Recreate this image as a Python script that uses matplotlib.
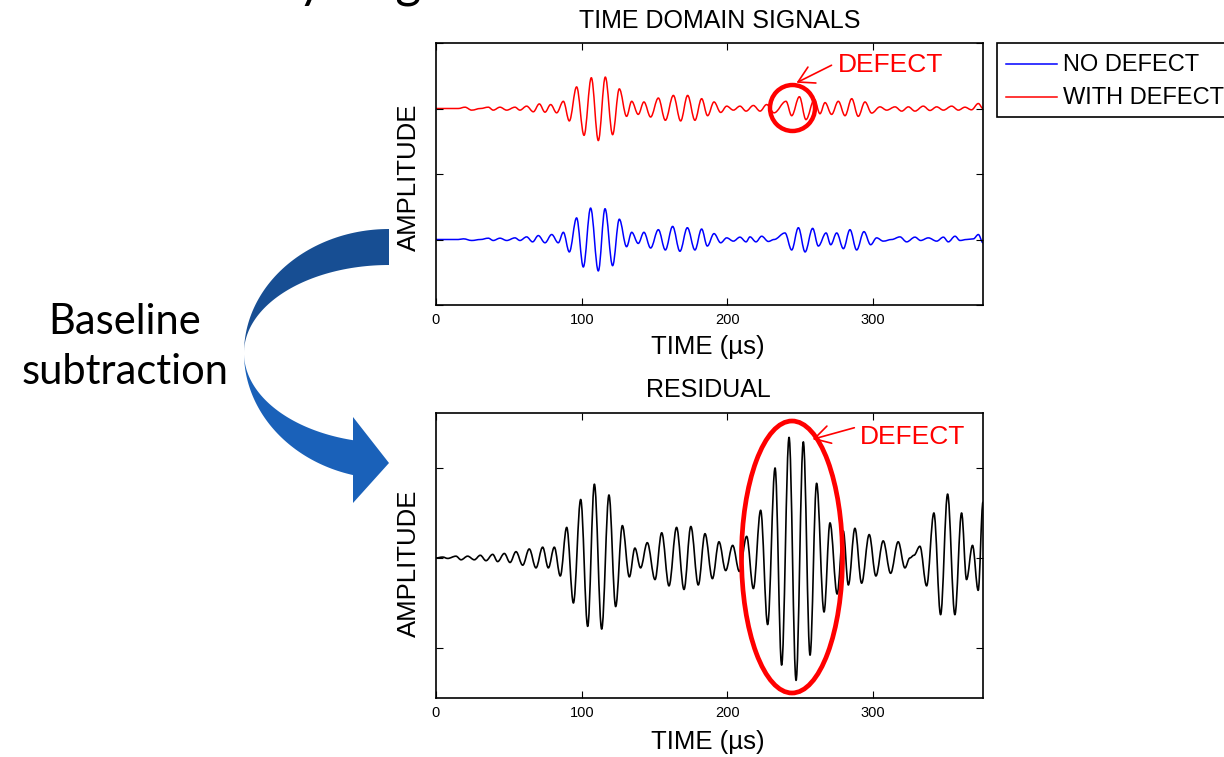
import matplotlib
matplotlib.use("Agg")
import numpy as np
import matplotlib.pyplot as plt
from matplotlib.patches import Ellipse, Polygon, Rectangle, FancyArrowPatch, PathPatch
from matplotlib.lines import Line2D
from matplotlib.path import Path

# ---------------------------------------------------------------- data
# Time-domain signal WITH a defect: extrema (time in us, amplitude)
red_t = [0.0, 15.3, 19.9, 24.5, 30.5, 35.9, 39.3, 43.9, 48.5, 54.2,
         57.6, 62.2, 66.8, 70.9, 74.8, 78.7, 82.8, 87.4, 91.5, 96.5,
         101.6, 106.6, 111.4, 116.2, 121.2, 125.8, 130.8, 134.3, 138.8, 142.7,
         147.3, 152.6, 157.4, 162.9, 167.9, 172.7, 177.7, 182.3, 186.4, 190.8,
         195.4, 199.5, 204.1, 208.6, 212.8, 217.8, 222.4, 226.9, 232.0, 240.2,
         244.1, 249.4, 253.9, 259.7, 263.5, 267.0, 271.5, 276.1, 280.7, 285.3,
         289.8, 294.4, 299.0, 304.7, 309.3, 315.0, 319.6, 324.2, 328.7, 334.4,
         339.0, 343.6, 348.2, 353.9, 358.5, 363.0, 367.5, 372.2, 375.4]
red_a = [0.0, 0.0, 0.02, -0.025, 0.0, 0.02, -0.025, 0.02, -0.025, 0.02,
         -0.025, 0.036, -0.05, 0.07, -0.056, 0.06, -0.066, 0.11, -0.19, 0.33,
         -0.41, 0.47, -0.49, 0.48, -0.40, 0.30, -0.12, 0.11, -0.09, 0.10,
         -0.13, 0.16, -0.18, 0.20, -0.19, 0.20, -0.18, 0.15, -0.11, 0.10,
         -0.06, 0.036, -0.025, 0.036, -0.04, 0.046, -0.04, 0.06, -0.066, 0.11,
         -0.11, 0.18, -0.17, 0.14, -0.08, 0.09, -0.09, 0.11, -0.11, 0.15,
         -0.12, 0.10, -0.07, 0.025, -0.025, 0.025, -0.04, 0.025, -0.04, 0.036,
         -0.03, 0.025, -0.025, 0.036, -0.025, 0.02, -0.02, 0.076, 0.0]

# Time-domain baseline signal (NO defect)
blue_t = [0.0, 15.3, 18.8, 24.5, 30.5, 35.9, 39.3, 43.9, 48.5, 54.2,
          57.6, 62.2, 66.3, 70.2, 74.8, 79.4, 83.9, 87.4, 91.5, 96.5,
          101.1, 106.1, 111.4, 116.0, 121.2, 125.8, 130.8, 134.3, 138.8, 142.7,
          147.3, 152.6, 157.4, 162.4, 167.4, 172.5, 177.7, 182.3, 186.2, 190.8,
          195.4, 199.5, 204.1, 208.6, 212.8, 215.5, 219.6, 223.5, 228.1, 232.0,
          239.5, 244.1, 248.7, 253.3, 258.5, 262.4, 267.7, 270.9, 275.0, 279.6,
          284.1, 288.7, 293.7, 298.3, 302.4, 307.0, 312.7, 318.4, 323.0, 328.7,
          332.6, 337.9, 343.6, 348.2, 351.6, 356.2, 359.6, 364.2, 368.8, 372.2,
          375.4]
blue_a = [0.0, 0.0, 0.01, -0.015, 0.0, 0.02, -0.015, 0.02, -0.015, 0.025,
          -0.015, 0.04, -0.036, 0.06, -0.05, 0.076, -0.05, 0.11, -0.19, 0.33,
          -0.42, 0.48, -0.48, 0.47, -0.40, 0.31, -0.11, 0.11, -0.06, 0.11,
          -0.13, 0.15, -0.16, 0.20, -0.18, 0.18, -0.16, 0.16, -0.10, 0.09,
          -0.05, 0.025, -0.025, 0.036, -0.036, 0.04, -0.036, 0.05, -0.03, 0.0,
          0.10, -0.16, 0.18, -0.19, 0.17, -0.10, 0.10, -0.08, 0.10, -0.14,
          0.15, -0.16, 0.12, -0.08, 0.025, -0.025, 0.0, 0.04, -0.036, 0.036,
          -0.015, 0.025, -0.025, 0.036, -0.036, 0.05, -0.015, 0.0, 0.01, 0.076,
          -0.05]

# Residual after baseline subtraction
res_t = [0.0, 4.6, 8.0, 13.7, 17.2, 21.7, 26.3, 30.4, 34.3, 38.9,
         42.3, 46.9, 50.8, 54.9, 59.5, 64.0, 68.6, 73.2, 77.1, 81.2,
         85.3, 89.7, 94.3, 99.3, 104.1, 108.7, 113.7, 118.7, 123.3, 127.9,
         132.7, 136.5, 140.4, 145.0, 150.3, 154.9, 159.9, 165.1, 170.2, 174.9,
         180.0, 184.6, 189.7, 194.2, 198.8, 203.6, 208.2, 213.2, 217.8, 222.8,
         227.6, 232.7, 237.2, 242.3, 247.1, 252.1, 256.7, 261.2, 266.3, 270.4,
         275.3, 279.5, 283.0, 287.5, 292.1, 297.3, 301.9, 306.9, 312.0, 317.2,
         321.8, 325.2, 328.0, 332.1, 336.7, 341.7, 346.3, 351.1, 356.1, 360.7,
         364.1, 368.2, 372.1, 375.4]
res_a = [0.0, 0.01, -0.005, 0.02, -0.02, 0.02, -0.02, 0.03, -0.03, 0.04,
         -0.04, 0.05, -0.05, 0.07, -0.08, 0.10, -0.11, 0.12, -0.11, 0.12,
         -0.20, 0.34, -0.50, 0.65, -0.76, 0.82, -0.79, 0.70, -0.54, 0.36,
         -0.21, 0.11, -0.11, 0.17, -0.24, 0.28, -0.31, 0.34, -0.35, 0.35,
         -0.30, 0.27, -0.23, 0.18, -0.14, 0.14, -0.15, 0.24, -0.34, 0.53,
         -0.74, 1.00, -1.19, 1.34, -1.36, 1.29, -1.08, 0.83, -0.60, 0.39,
         -0.40, 0.30, -0.30, 0.33, -0.28, 0.26, -0.20, 0.19, -0.17, 0.18,
         -0.11, 0.0, 0.03, 0.13, -0.31, 0.50, -0.63, 0.71, -0.63, 0.50,
         -0.24, 0.14, -0.36, 0.62]

x_ticks = [0, 100, 200, 300]
series_names = ["NO DEFECT", "WITH DEFECT"]

# ---------------------------------------------------------------- layout
plt.rcParams["font.family"] = ["Liberation Sans", "DejaVu Sans"]
W, H = 1224, 757
fig = plt.figure(figsize=(W / 100, H / 100), dpi=100)


def box(left, top, right, bottom):
    return [left / W, 1 - bottom / H, (right - left) / W, (bottom - top) / H]


def style_axes(ax, ylim, yticks):
    ax.set_xlim(0, 375.4)
    ax.set_ylim(*ylim)
    ax.set_xticks(x_ticks)
    ax.set_yticks(yticks)
    ax.set_yticklabels([])
    ax.tick_params(direction="in", top=True, right=True, length=5,
                   width=0.8, labelsize=10.5, pad=6)
    for s in ax.spines.values():
        s.set_linewidth(1.2)


def wave(ax, t, a, offset, color, lw):
    """Draw a trace through its extrema, each joined by a smooth cubic
    segment with level tangents at the turning points."""
    t = np.asarray(t, float)
    a = np.asarray(a, float) + offset
    verts = [(t[0], a[0])]
    codes = [Path.MOVETO]
    for i in range(1, len(t)):
        d = t[i] - t[i - 1]
        verts += [(t[i - 1] + 0.36 * d, a[i - 1]),
                  (t[i] - 0.36 * d, a[i]),
                  (t[i], a[i])]
        codes += [Path.CURVE4] * 3
    ax.add_patch(PathPatch(Path(verts, codes), fill=False, ec=color, lw=lw,
                           capstyle="round", joinstyle="round"))


ax1 = fig.add_axes(box(436, 43, 983, 305))
wave(ax1, blue_t, blue_a, -1.0, "#0000ff", 1.1)
wave(ax1, red_t, red_a, 1.0, "#ff0000", 1.1)
style_axes(ax1, (-2, 2), [-2, -1, 0, 1, 2])

ax2 = fig.add_axes(box(436, 413, 983, 698))
wave(ax2, res_t, res_a, 0.0, "black", 1.2)
style_axes(ax2, (-1.556, 1.611), [-1, 0, 1])

lab = dict(fontsize=18.5, ha="center", va="center")
fig.text(720 / W, 1 - 21 / H, "TIME DOMAIN SIGNALS", fontsize=18,
         ha="center", va="center")
fig.text(708 / W, 1 - 390 / H, "RESIDUAL", fontsize=18,
         ha="center", va="center")
fig.text(708 / W, 1 - 347 / H, "TIME (\u00b5s)", **lab)
fig.text(708 / W, 1 - 742 / H, "TIME (\u00b5s)", **lab)
fig.text(409 / W, 1 - 177 / H, "AMPLITUDE", rotation=90, **lab)
fig.text(409 / W, 1 - 563 / H, "AMPLITUDE", rotation=90, **lab)

# ---------------------------------------------------------------- overlay (pixel coordinates)
ov = fig.add_axes([0, 0, 1, 1], zorder=5)
ov.set_xlim(0, W)
ov.set_ylim(H, 0)
ov.axis("off")
ov.patch.set_alpha(0)

# curved "baseline subtraction" arrow
cx, cy, rx = 389, 353, 145
th_up = np.radians(np.linspace(90, 180, 60))
upper = np.concatenate([
    np.column_stack([cx + rx * np.cos(th_up), cy - 124 * np.sin(th_up)]),
    np.column_stack([cx + rx * np.cos(th_up[::-1]), cy - 88 * np.sin(th_up[::-1])]),
])
ov.add_patch(Polygon(upper, closed=True, fc="#174e93", ec="none"))
th_end = np.degrees(np.arccos((353 - cx) / rx))
th_lo = np.radians(np.linspace(180, th_end, 60))
outer_lo = np.column_stack([cx + rx * np.cos(th_lo), cy + 126 * np.sin(th_lo)])
inner_lo = np.column_stack([cx + rx * np.cos(th_lo), cy + 90 * np.sin(th_lo)])
lower = np.concatenate([
    outer_lo,
    [[353, 503], [389, 463], [353, 417]],
    inner_lo[::-1],
])
ov.add_patch(Polygon(lower, closed=True, fc="#1a61b9", ec="none"))

fig.text(125 / W, 1 - 347 / H, "Baseline\nsubtraction", fontsize=30,
         family="Lato", ha="center", va="center", linespacing=1.4)

# defect markers
ov.add_patch(Ellipse((792.5, 108), 45, 46, fill=False, ec="#ff0000", lw=3.2))
ov.add_patch(Ellipse((792, 557), 101, 272, fill=False, ec="#ff0000", lw=3.4))
for (x0, y0), (x1, y1) in [((834, 64), (794, 84)), ((857, 427), (810, 440))]:
    ov.add_patch(FancyArrowPatch((x0, y0), (x1, y1),
                                 arrowstyle="->,head_length=7,head_width=4",
                                 color="#ff0000", lw=1.2, mutation_scale=1.6))
ov.text(838, 65, "DEFECT", color="#ff0000", fontsize=19, va="center", ha="left")
ov.text(860, 437, "DEFECT", color="#ff0000", fontsize=19, va="center", ha="left")

# legend box (runs past the right edge)
ov.add_patch(Rectangle((997, 43), 260, 74, fc="white", ec="black", lw=1.2,
                       clip_on=False))
for yy, col, name in [(64, "#0000ff", series_names[0]),
                      (97, "#ff0000", series_names[1])]:
    ov.add_line(Line2D([1006, 1057], [yy, yy], color=col, lw=1.1))
    ov.text(1063, yy + 1, name, fontsize=17, va="center", ha="left")

# slide heading running off the top edge
head = fig.text(0, 0, "Sensitivity", fontsize=36, family="Lato")
fig.canvas.draw()
wpx = head.get_window_extent().width
head.set_text("Sensitivity of guided waves")
head.set_position(((324 - wpx) / W, 1 + 3 / H))
head.set_va("baseline")

fig.savefig("out.png", dpi=100)
